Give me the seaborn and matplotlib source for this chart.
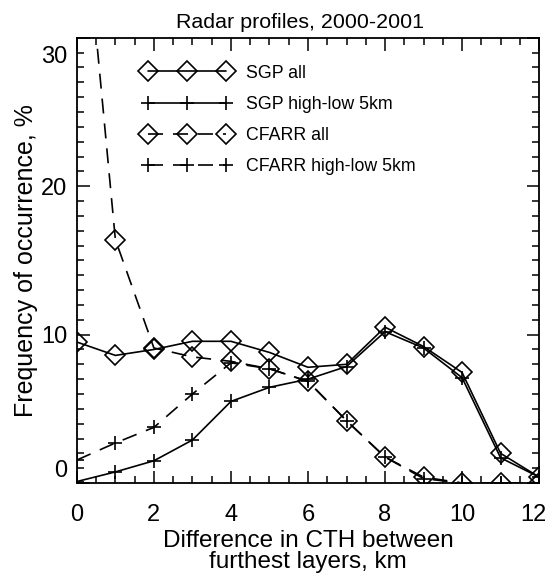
import numpy as np
import pandas as pd
import matplotlib
matplotlib.use("Agg")
import matplotlib.pyplot as plt
import matplotlib.transforms as mtransforms
from matplotlib.ticker import MultipleLocator
import seaborn as sns

# ── data ─────────────────────────────────────────────────────────────────────
cth_diff = [0, 1, 2, 3, 4, 5, 6, 7, 8, 9, 10, 11, 12]

sgp_all       = [9.5, 8.6, 9.0, 9.55, 9.55, 8.8, 7.8, 8.0, 10.5, 9.2, 7.45, 2.0, 0.4]
sgp_highlow   = [0.1, 0.75, 1.5, 2.9, 5.5, 6.45, 7.0, 7.85, 10.2, 9.1, 7.1, 1.7, 0.4]
cfarr_all     = [44.0, 16.4, 9.1, 8.5, 8.2, 7.7, 6.85, 4.2, 1.75, 0.4, 0.0, 0.0, 0.0]
cfarr_highlow = [1.55, 2.7, 3.75, 6.0, 8.1, 7.7, 6.85, 4.2, 1.75, 0.3, 0.0, 0.0, 0.0]

series_names = ["SGP all", "SGP high-low 5km", "CFARR all", "CFARR high-low 5km"]

# ── style ────────────────────────────────────────────────────────────────────
sns.set_style("ticks")
plt.rcParams["font.family"] = ["Liberation Sans", "DejaVu Sans"]
plt.rcParams.update({
    "font.size": 13, "axes.linewidth": 1.3,
    "text.color": "black", "axes.labelcolor": "black", "axes.edgecolor": "black",
    "xtick.color": "black", "ytick.color": "black",
})

fig = plt.figure(figsize=(5.49, 5.73), dpi=100)
ax = fig.add_axes([0.140, 0.157, 0.842, 0.777])

DASH = (0, (9, 6))
specs = [
    (sgp_all, "D", "-"),
    (sgp_highlow, "+", "-"),
    (cfarr_all, "D", DASH),
    (cfarr_highlow, "+", DASH),
]

for (vals, mk, ls), name in zip(specs, series_names):
    sns.lineplot(x=cth_diff, y=vals, ax=ax, color="black", linewidth=1.2,
                 linestyle=ls, marker=mk, markersize=10, markerfacecolor="none",
                 markeredgecolor="black", markeredgewidth=1.2,
                 label=name, legend=False)

ax.set_xlim(0, 12)
ax.set_ylim(0, 30)
ax.xaxis.set_major_locator(MultipleLocator(2))
ax.xaxis.set_minor_locator(MultipleLocator(0.5))
ax.yaxis.set_major_locator(MultipleLocator(10))
ax.yaxis.set_minor_locator(MultipleLocator(1))
ax.tick_params(which="both", direction="in", top=True, right=True,
               width=1.1, labelsize=17)
ax.tick_params(axis="x", pad=15)
ax.tick_params(axis="y", pad=7)
ax.tick_params(which="major", length=9)
ax.tick_params(which="minor", length=5)

# edge labels sit inside the frame in the original
fig.canvas.draw()
for lab in ax.get_yticklabels():
    txt = lab.get_text()
    if txt == "0":
        lab.set_transform(lab.get_transform() +
                          mtransforms.ScaledTranslation(0, 0.15, fig.dpi_scale_trans))
    elif txt == "30":
        lab.set_transform(lab.get_transform() +
                          mtransforms.ScaledTranslation(0, -0.17, fig.dpi_scale_trans))
for lab in ax.get_xticklabels():
    if lab.get_text() == "12":
        lab.set_transform(lab.get_transform() +
                          mtransforms.ScaledTranslation(-0.06, 0, fig.dpi_scale_trans))

ax.set_xlabel("Difference in CTH between\nfurthest layers, km", fontsize=17.5,
              linespacing=0.95, labelpad=3)
ax.set_ylabel("Frequency of occurrence, %", fontsize=18, labelpad=2)
ax.set_title("Radar profiles, 2000-2001", fontsize=15.4, pad=7, x=0.482)

leg = ax.legend(loc="upper left", bbox_to_anchor=(0.115, 0.968), frameon=False,
                numpoints=3, handlelength=5.0, handletextpad=0.8,
                labelspacing=0.8, fontsize=12.8, borderaxespad=0.3)
for h in leg.get_lines():
    h.set_linewidth(1.2)

fig.savefig("out.png", dpi=100)
